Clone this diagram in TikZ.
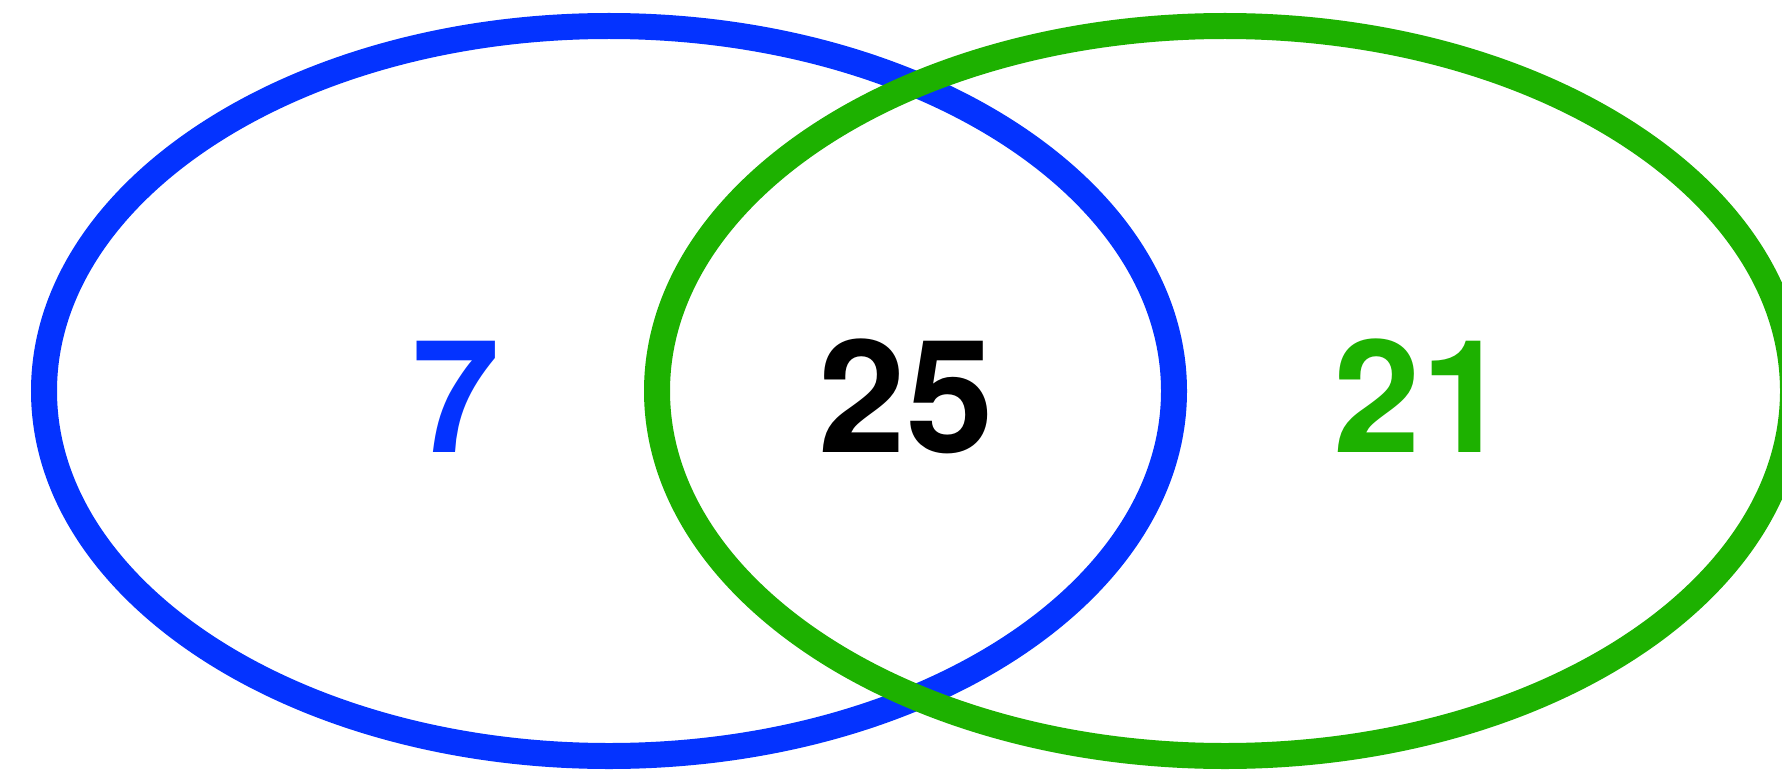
\documentclass[tikz,border=0pt]{standalone}
\usepackage{fontspec}
\setmainfont{TeX Gyre Heros}
\definecolor{vblue}{RGB}{4,51,255}
\definecolor{vgreen}{RGB}{29,177,0}
\tikzset{
  setring/.style={line width=26pt},
  count/.style={font=\fontsize{157}{157}\selectfont\bfseries, anchor=base, inner sep=0pt}
}
\begin{document}
\begin{tikzpicture}[x=1pt,y=-1pt]
\useasboundingbox (0,0) rectangle (1782,770);
\clip (0,0) rectangle (1782,770);
\fill[white] (0,0) rectangle (1782,770);
\draw[setring, vblue] (609,391) ellipse [x radius=565, y radius=365];
\draw[setring, vgreen] (1225,391) ellipse [x radius=568, y radius=365];
\node[count, text=vblue] (a) at (456,452) {7};
\node[count, text=black] (ab) at (906,452) {25};
\node[count, text=vgreen] (b) at (1421,452) {21};
\end{tikzpicture}
\end{document}
